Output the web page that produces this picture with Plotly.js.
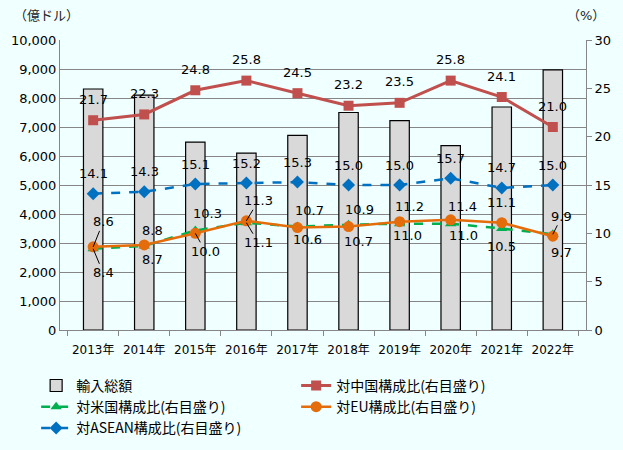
<!DOCTYPE html>
<html><head><meta charset="utf-8">
<script src="https://cdn.plot.ly/plotly-3.0.1.min.js"></script>
<style>body{margin:0;background:#F0FFFF}#c{width:623px;height:450px}</style>
</head><body><div id="c"></div>
<script>
const years = ['2013年','2014年','2015年','2016年','2017年','2018年','2019年','2020年','2021年','2022年'];
const imports = [8310, 8100, 6480, 6100, 6710, 7500, 7220, 6360, 7690, 8970];
const china = [21.7, 22.3, 24.8, 25.8, 24.5, 23.2, 23.5, 25.8, 24.1, 21.0];
const us = [8.4, 8.7, 10.3, 11.1, 10.7, 10.9, 11.0, 11.0, 10.5, 9.9];
const eu = [8.6, 8.8, 10.0, 11.3, 10.6, 10.7, 11.2, 11.4, 11.1, 9.7];
const asean = [14.1, 14.3, 15.1, 15.2, 15.3, 15.0, 15.0, 15.7, 14.7, 15.0];

// label placement (pixel offsets), style only
const usOff = [[10,24,1],[8,14,0],[12,-17,0],[12,20,1],[12,-16,0],[11,-15,0],[8,12,0],[13,12,0],[0,18,0],[9,-18,1]];
const euOff = [[10,-25,1],[8,-14,0],[10,18,1],[12,-20,1],[10,12,0],[10,15,0],[10,-15,0],[12,-13,0],[0,-20,0],[9,16,0]];

const FONT = 'DejaVu Sans, Noto Sans CJK JP, sans-serif';
const traces = [
  {type:'bar', x:years, y:imports, name:'輸入総額', yaxis:'y',
   marker:{color:'#D9D9D9', line:{color:'#000000', width:1.2}}},
  {type:'scatter', mode:'lines+markers', x:years, y:china, name:'対中国構成比(右目盛り)', yaxis:'y2',
   line:{color:'#C0504D', width:3}, marker:{symbol:'square', size:10, color:'#C0504D'}},
  {type:'scatter', mode:'lines+markers', x:years, y:us, name:'対米国構成比(右目盛り)', yaxis:'y2',
   line:{color:'#00B050', width:2.5, dash:'dash'}, marker:{symbol:'triangle-up', size:10, color:'#00B050'}},
  {type:'scatter', mode:'lines+markers', x:years, y:eu, name:'対EU構成比(右目盛り)', yaxis:'y2',
   line:{color:'#E46C0A', width:2.5}, marker:{symbol:'circle', size:11, color:'#E46C0A'}},
  {type:'scatter', mode:'lines+markers', x:years, y:asean, name:'対ASEAN構成比(右目盛り)', yaxis:'y2',
   line:{color:'#0070C0', width:2.5, dash:'dash'}, marker:{symbol:'diamond', size:10, color:'#0070C0'}}
];

const ann = [];
const lab = {font:{family:FONT, size:13, color:'#000'}};
years.forEach((yr,i)=>{
  ann.push(Object.assign({x:yr, y:china[i], xref:'x', yref:'y2', text:china[i].toFixed(1), showarrow:false, yshift:21}, lab));
  ann.push(Object.assign({x:yr, y:asean[i], xref:'x', yref:'y2', text:asean[i].toFixed(1), showarrow:false, yshift:20}, lab));
  [[us,usOff],[eu,euOff]].forEach(([arr,off])=>{
    const o = off[i];
    if (o[2]) {
      ann.push(Object.assign({x:yr, y:arr[i], xref:'x', yref:'y2', text:arr[i].toFixed(1), showarrow:true,
        arrowhead:0, arrowwidth:1, arrowcolor:'#000', ax:o[0], ay:o[1], standoff:0}, lab));
    } else {
      ann.push(Object.assign({x:yr, y:arr[i], xref:'x', yref:'y2', text:arr[i].toFixed(1), showarrow:false,
        xshift:o[0], yshift:-o[1]}, lab));
    }
  });
});
ann.push({xref:'paper', yref:'paper', x:-0.025, y:1.085, xanchor:'center', yanchor:'middle', showarrow:false,
  text:'（億ドル）', font:{family:FONT, size:13, color:'#222'}});
ann.push({xref:'paper', yref:'paper', x:1.0, y:1.085, xanchor:'center', yanchor:'middle', showarrow:false,
  text:'（%）', font:{family:FONT, size:13, color:'#222'}});

const layout = {
  width:623, height:450,
  margin:{l:60, r:37, t:40, b:120, autoexpand:false},
  paper_bgcolor:'#F0FFFF', plot_bgcolor:'#F0FFFF',
  font:{family:FONT, size:13, color:'#000'},
  showlegend:true,
  bargap:0.62,
  hovermode:false,
  xaxis:{type:'category', showgrid:false, showline:true, linecolor:'#868686', linewidth:1,
    ticks:'outside', tickson:'boundaries', ticklen:5, tickcolor:'#868686', tickangle:0, automargin:false,
    ticklabelstandoff:9, tickfont:{family:FONT, size:12}},
  yaxis:{range:[0,10000], dtick:1000, tickformat:',d', showgrid:true, gridcolor:'#868686', gridwidth:1,
    showline:true, linecolor:'#868686', zeroline:false, ticks:'', automargin:false, tickfont:{family:FONT, size:13}},
  yaxis2:{range:[0,30], dtick:5, overlaying:'y', side:'right', showgrid:false, showline:true, automargin:false,
    linecolor:'#868686', ticks:'outside', ticklen:5, tickcolor:'#868686', zeroline:false,
    tickfont:{family:FONT, size:13}},
  legend:{orientation:'h', xref:'container', yref:'container', x:0.058, xanchor:'left', y:0.178, yanchor:'top',
    entrywidth:215, entrywidthmode:'pixels', itemwidth:30,
    font:{family:'Noto Sans CJK JP, sans-serif', size:14, color:'#000'}, traceorder:'normal', bgcolor:'rgba(0,0,0,0)'},
  annotations:ann
};
Plotly.newPlot('c', traces, layout, {staticPlot:true});
</script></body></html>
